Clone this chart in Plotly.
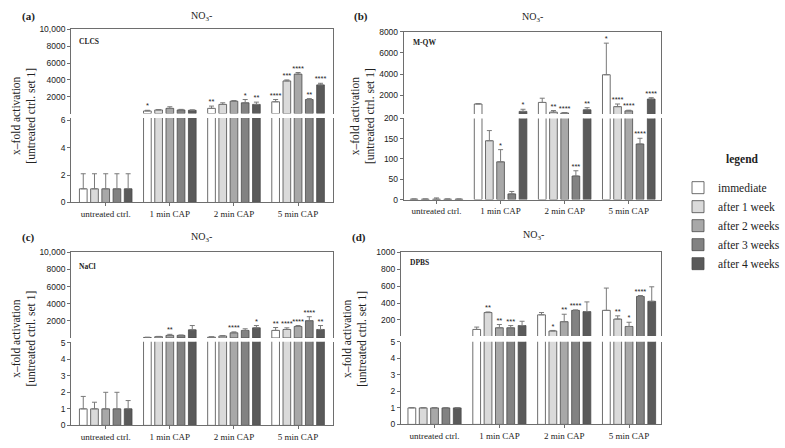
import plotly.graph_objects as go

W, H = 785, 448
SERIF = "Liberation Serif"
SANS = "Liberation Sans"

categories = ["untreated ctrl.", "1 min CAP", "2 min CAP", "5 min CAP"]
series_names = ["immediate", "after 1 week", "after 2 weeks", "after 3 weeks", "after 4 weeks"]
series_colors = ["#ffffff", "#dadada", "#a8a8a8", "#828282", "#5a5a5a"]

# ---- (a) CLCS: rows = series, cols = categories
clcs_values = [[1, 310, 620, 1400],
               [1, 430, 1090, 3880],
               [1, 620, 1470, 4690],
               [1, 430, 1280, 1670],
               [1, 390, 1090, 3410]]
clcs_errors = [[1.1, 80, 270, 270],
               [1.1, 50, 190, 120],
               [1.1, 190, 80, 190],
               [1.1, 70, 390, 110],
               [1.1, 50, 270, 190]]
clcs_stars = [["", "*", "**", "****"],
              ["", "", "", "***"],
              ["", "", "", "****"],
              ["", "", "*", "**"],
              ["", "", "**", "****"]]

# ---- (b) M-QW
mqw_values = [[1, 1150, 1300, 3930],
              [1, 145, 380, 900],
              [1, 93, 300, 500],
              [1, 14, 58, 137],
              [1, 450, 600, 1620]]
mqw_errors = [[0.5, 40, 400, 3000],
              [0.5, 25, 150, 250],
              [3, 30, 40, 60],
              [0.5, 6, 13, 14],
              [0.5, 200, 200, 130]]
mqw_stars = [["", "", "", "*"],
             ["", "", "**", "****"],
             ["", "*", "****", "****"],
             ["", "", "***", "****"],
             ["", "*", "**", "****"]]

# ---- (c) NaCl
nacl_values = [[1, 60, 100, 880],
               [1, 150, 230, 990],
               [1, 300, 600, 1340],
               [1, 300, 880, 2020],
               [1, 950, 1180, 990]]
nacl_errors = [[0.75, 20, 30, 340],
               [0.4, 30, 40, 190],
               [1.0, 120, 110, 110],
               [1.0, 40, 190, 460],
               [0.5, 500, 270, 460]]
nacl_stars = [["", "", "", "**"],
              ["", "", "", "****"],
              ["", "**", "****", "****"],
              ["", "", "", "****"],
              ["", "", "*", "**"]]

# ---- (d) DPBS
dpbs_values = [[1, 87, 260, 313],
               [1, 287, 69, 210],
               [1, 107, 179, 122],
               [1, 107, 313, 478],
               [1, 133, 298, 420]]
dpbs_errors = [[0.02, 28, 27, 264],
               [0.02, 7, 6, 38],
               [0.02, 38, 88, 50],
               [0.02, 26, 5, 11],
               [0.02, 51, 115, 172]]
dpbs_stars = [["", "", "", ""],
              ["", "**", "*", "**"],
              ["", "**", "**", "*"],
              ["", "***", "****", "****"],
              ["", "", "", ""]]

upper_ticks_10k = [2000, 4000, 6000, 8000, 10000]
upper_labels_10k = ["2000", "4000", "6000", "8000", "10,000"]
upper_ticks_8k = [2000, 4000, 6000, 8000]
upper_labels_8k = ["2000", "4000", "6000", "8000"]
upper_ticks_1k = [200, 400, 600, 800, 1000]
upper_labels_1k = ["200", "400", "600", "800", "1000"]

panels = [
    dict(letter="(a)", medium="CLCS", values=clcs_values, errors=clcs_errors, stars=clcs_stars,
         xpx=(72, 337), upx=(25, 111), lopx=(115.5, 202), xr=(-0.54, 3.54),
         ur=(6, 10000), lr=(0, 6.18), ut=upper_ticks_10k, ul=upper_labels_10k, lt=[0, 2, 4, 6],
         letter_xy=(29, 12), title_xy=(204, 12), med_xy=(78, 37), ytitle_x=24),
    dict(letter="(b)", medium="M-QW", values=mqw_values, errors=mqw_errors, stars=mqw_stars,
         xpx=(409, 670), upx=(27.5, 111.5), lopx=(116, 199), xr=(-0.51, 3.51),
         ur=(200, 8000), lr=(0, 200), ut=upper_ticks_8k, ul=upper_labels_8k, lt=[0, 50, 100, 150, 200],
         letter_xy=(366, 12), title_xy=(539, 13), med_xy=(416, 38), ytitle_x=367),
    dict(letter="(c)", medium="NaCl", values=nacl_values, errors=nacl_errors, stars=nacl_stars,
         xpx=(72, 337), upx=(253, 340.5), lopx=(344.5, 430), xr=(-0.54, 3.54),
         ur=(5, 10000), lr=(0, 5.05), ut=upper_ticks_10k, ul=upper_labels_10k, lt=[0, 1, 2, 3, 4, 5],
         letter_xy=(29, 238), title_xy=(204, 238), med_xy=(78, 267), ytitle_x=24),
    dict(letter="(d)", medium="DPBS", values=dpbs_values, errors=dpbs_errors, stars=dpbs_stars,
         xpx=(406, 670), upx=(253, 338.5), lopx=(344.5, 429), xr=(-0.52, 3.5),
         ur=(10, 1000), lr=(0, 5), ut=upper_ticks_1k, ul=upper_labels_1k, lt=[0, 1, 2, 3, 4, 5],
         letter_xy=(364, 238), title_xy=(540, 236), med_xy=(413, 263), ytitle_x=359),
]

BAR_OFFSET = 0.175
BAR_WIDTH = 0.12
AXIS_COLOR = "#6e6e6e"
TICK_FONT = dict(family=SANS, size=8.5, color="#222")


def fx(px):
    return px / W


def fy(py):
    return 1 - py / H


def ax_name(letter, n):
    return letter if n == 1 else f"{letter}{n}"


def lay_name(letter, n):
    return f"{letter}axis" if n == 1 else f"{letter}axis{n}"


fig = go.Figure()
layout = {}
annotations = []

for p, P in enumerate(panels):
    nl, nu = 2 * p + 1, 2 * p + 2
    xl, yl, xu, yu = ax_name("x", nl), ax_name("y", nl), ax_name("x", nu), ax_name("y", nu)
    lo_max = P["lr"][1]
    up_min = P["ur"][0]

    for s in range(len(series_names)):
        xs = [c + (s - 2) * BAR_OFFSET for c in range(len(categories))]
        vals = P["values"][s]
        errs = P["errors"][s]
        # upper segment: only bars that reach into the upper axis range
        up_vals = [v if v > up_min else None for v in vals]
        up_errs = [e if v > up_min else 0 for v, e in zip(vals, errs)]
        for seg, (xa, ya, yv, ev) in enumerate([(xl, yl, vals, errs), (xu, yu, up_vals, up_errs)]):
            fig.add_trace(go.Bar(
                x=xs, y=yv, width=BAR_WIDTH,
                name=series_names[s],
                marker=dict(color=series_colors[s], line=dict(color="#4a4a4a", width=0.8)),
                error_y=dict(type="data", symmetric=False, array=ev,
                             arrayminus=[0] * len(categories), color="#7a7a7a",
                             thickness=1, width=2.5),
                xaxis=xa, yaxis=ya, showlegend=(p == 0 and seg == 0),
                hoverinfo="skip",
            ))

    # significance stars
    seg_pts = {"lo": ([], [], []), "up": ([], [], [])}
    for s in range(len(series_names)):
        for c in range(len(categories)):
            t = P["stars"][s][c]
            if not t:
                continue
            top = P["values"][s][c] + P["errors"][s][c]
            key = "lo" if top <= lo_max else "up"
            seg_pts[key][0].append(c + (s - 2) * BAR_OFFSET)
            seg_pts[key][1].append(top)
            seg_pts[key][2].append(t)
    for key, (xa, ya) in [("lo", (xl, yl)), ("up", (xu, yu))]:
        xs_, ys_, ts_ = seg_pts[key]
        if xs_:
            fig.add_trace(go.Scatter(
                x=xs_, y=ys_, text=ts_, mode="text", textposition="top center",
                textfont=dict(family=SANS, size=7.5, color="#222"),
                cliponaxis=False, showlegend=False, hoverinfo="skip",
                xaxis=xa, yaxis=ya))

    xdom = [fx(P["xpx"][0]), fx(P["xpx"][1])]
    layout[lay_name("x", nl)] = dict(
        domain=xdom, anchor=yl, range=list(P["xr"]), showgrid=False, zeroline=False,
        showline=True, linecolor=AXIS_COLOR, linewidth=1,
        tickmode="array", tickvals=list(range(len(categories))), ticktext=categories,
        ticks="outside", ticklen=3, tickcolor=AXIS_COLOR,
        tickfont=dict(family=SERIF, size=9, color="#222"), fixedrange=True)
    layout[lay_name("x", nu)] = dict(
        domain=xdom, anchor=yu, matches=xl, side="top", showgrid=False, zeroline=False,
        showline=True, linecolor=AXIS_COLOR, linewidth=1, showticklabels=False, ticks="")
    layout[lay_name("y", nl)] = dict(
        domain=[fy(P["lopx"][1]), fy(P["lopx"][0])], anchor=xl, range=list(P["lr"]),
        showgrid=False, zeroline=False, showline=True, mirror=True,
        linecolor=AXIS_COLOR, linewidth=1, tickmode="array", tickvals=P["lt"],
        ticktext=[str(v) for v in P["lt"]], ticks="outside", ticklen=3,
        tickcolor=AXIS_COLOR, tickfont=TICK_FONT)
    layout[lay_name("y", nu)] = dict(
        domain=[fy(P["upx"][1]), fy(P["upx"][0])], anchor=xu, range=list(P["ur"]),
        showgrid=False, zeroline=False, showline=True, mirror=True,
        linecolor=AXIS_COLOR, linewidth=1, tickmode="array", tickvals=P["ut"],
        ticktext=P["ul"], ticks="outside", ticklen=3,
        tickcolor=AXIS_COLOR, tickfont=TICK_FONT)

    # texts
    lx, ly = P["letter_xy"]
    annotations.append(dict(text=f"<b>{P['letter']}</b>", x=fx(lx), y=fy(ly), xref="paper", yref="paper",
                            xanchor="center", yanchor="middle",
                            showarrow=False, font=dict(family=SERIF, size=11, color="#222")))
    tx, ty = P["title_xy"]
    annotations.append(dict(text="NO<sub>3</sub>-", x=fx(tx), y=fy(ty), xref="paper", yref="paper",
                            xanchor="center", yanchor="middle",
                            showarrow=False, font=dict(family=SERIF, size=10, color="#222")))
    mx, my = P["med_xy"]
    annotations.append(dict(text=f"<b>{P['medium']}</b>", x=fx(mx), y=fy(my), xref="paper", yref="paper",
                            xanchor="left", yanchor="middle",
                            showarrow=False, font=dict(family=SERIF, size=7.5, color="#222")))
    ymid = (P["upx"][0] + P["lopx"][1]) / 2
    annotations.append(dict(text="x\u2013fold activation<br>[untreated ctrl. set 1]",
                            x=fx(P["ytitle_x"]), y=fy(ymid), xref="paper", yref="paper",
                            xanchor="center", yanchor="middle",
                            textangle=-90, showarrow=False,
                            font=dict(family=SERIF, size=11.5, color="#222")))

# legend heading
annotations.append(dict(text="<b>legend</b>", x=fx(752), y=fy(158), xref="paper", yref="paper",
                        xanchor="center", yanchor="middle", showarrow=False,
                        font=dict(family=SERIF, size=11.5, color="#222")))

fig.update_layout(
    width=W, height=H, margin=dict(l=0, r=0, t=0, b=0),
    paper_bgcolor="white", plot_bgcolor="white",
    barmode="overlay", annotations=annotations,
    legend=dict(x=fx(687), y=fy(172), xanchor="left", yanchor="top",
                font=dict(family=SERIF, size=11.5, color="#222"),
                bgcolor="rgba(0,0,0,0)", traceorder="normal", itemwidth=30),
    **layout,
)

fig.write_html("out.html")
